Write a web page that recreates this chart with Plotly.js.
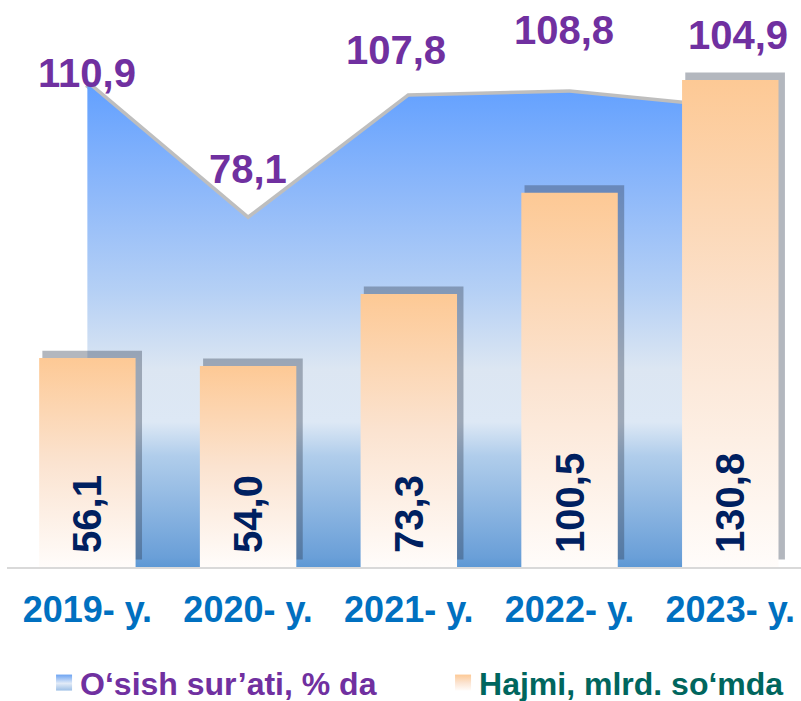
<!DOCTYPE html>
<html>
<head>
<meta charset="utf-8">
<script src="https://cdn.plot.ly/plotly-3.0.1.min.js"></script>
<style>
  html, body { margin: 0; padding: 0; background: #ffffff; }
  #chart { width: 801px; height: 701px; }
</style>
</head>
<body>
<div id="chart"></div>
<script>
// ---- data ----
const years = ['2019- y.', '2020- y.', '2021- y.', '2022- y.', '2023- y.'];
const growthRate = [110.9, 78.1, 107.8, 108.8, 104.9];   // O‘sish sur’ati, % da
const volume = [56.1, 54.0, 73.3, 100.5, 130.8];          // Hajmi, mlrd. so‘mda
const growthName = 'O‘sish sur’ati, % da';
const volumeName = 'Hajmi, mlrd. so‘mda';

// ---- style / layout settings (not data) ----
const AREA_RANGE = [-6.1, 126.4];
const BAR_RANGE = [0, 146.9];
const SHADOW_SHIFT = 2.0;
const labelShift = [[0, 11], [0, 50], [-13, 47], [-6, 63], [8, 74]];
const FONT = 'Liberation Sans, Arial, sans-serif';
const BAR_COLOR = 'rgb(252, 221, 192)';

const fmt = v => v.toFixed(1).replace('.', ',');

const traces = [
  { // shadow of the area edge
    type: 'scatter', mode: 'lines', x: years, y: growthRate, yaxis: 'y',
    line: { color: 'rgba(110,110,110,0.45)', width: 7 },
    showlegend: false, hoverinfo: 'skip'
  },
  { // area base at the bottom of the axis
    type: 'scatter', mode: 'lines', x: years, y: years.map(() => AREA_RANGE[0]), yaxis: 'y',
    line: { width: 0, color: 'rgba(0,0,0,0)' },
    showlegend: false, hoverinfo: 'skip'
  },
  {
    type: 'scatter', mode: 'lines', x: years, y: growthRate, yaxis: 'y',
    name: '<span style="color:#7030A0">' + growthName + '</span>',
    legendrank: 1,
    fill: 'tonexty',
    fillgradient: {
      type: 'vertical',
      start: AREA_RANGE[0],
      stop: Math.max(...growthRate),
      colorscale: [
        [0, '#5D98D4'], [0.02, '#6A9FD8'], [0.23, '#B0CDEB'], [0.30, '#DDE8F5'],
        [0.41, '#DCE6F2'], [0.57, '#B5D0F5'], [0.78, '#8DB8FA'], [1, '#62A0FF']
      ]
    },
    line: { width: 0, color: 'rgba(0,0,0,0)' },
    hoverinfo: 'skip'
  },
  { // bar shadows
    type: 'bar', x: years, y: volume, yaxis: 'y2',
    offset: -0.28, width: 0.62,
    marker: { color: 'rgba(45,55,75,0.36)', line: { width: 0 } },
    showlegend: false, hoverinfo: 'skip'
  },
  {
    type: 'bar', x: years, y: volume, yaxis: 'y3',
    name: '<span style="color:#00665E">' + volumeName + '</span>',
    legendrank: 2,
    offset: -0.3, width: 0.6,
    marker: { color: BAR_COLOR, line: { width: 0 } },
    texttemplate: '\u00A0%{y:.1f}',
    textposition: 'inside', insidetextanchor: 'start', textangle: -90,
    textfont: { family: FONT, size: 40, weight: 700, color: '#002060' },
    constraintext: 'none',
    hoverinfo: 'skip'
  }
];

const annotations = growthRate.map((v, i) => ({
  x: years[i], y: v, xref: 'x', yref: 'y',
  text: fmt(v), showarrow: false,
  xanchor: 'center', yanchor: 'middle',
  xshift: labelShift[i][0], yshift: labelShift[i][1],
  font: { family: FONT, size: 40, weight: 700, color: '#7030A0' }
}));

const layout = {
  width: 801, height: 701,
  margin: { l: 7, r: 0, t: 20, b: 134 },
  paper_bgcolor: '#ffffff', plot_bgcolor: '#ffffff',
  separators: ', ',
  showlegend: true,
  xaxis: {
    type: 'category', range: [-0.5, 4.44],
    showgrid: false, zeroline: false,
    showline: true, linecolor: '#D9D9D9', linewidth: 2,
    ticks: '', ticklabelstandoff: 10,
    tickfont: { family: FONT, size: 36, weight: 700, color: '#0070C0' }
  },
  yaxis: { range: AREA_RANGE, visible: false, fixedrange: true },
  yaxis2: { range: [BAR_RANGE[0] - SHADOW_SHIFT, BAR_RANGE[1] - SHADOW_SHIFT], overlaying: 'y', visible: false },
  yaxis3: { range: BAR_RANGE, overlaying: 'y', visible: false },
  legend: {
    orientation: 'h', traceorder: 'normal',
    xref: 'container', yref: 'container',
    x: 0.05, xanchor: 'left',
    y: 0.026, yanchor: 'middle',
    entrywidthmode: 'pixels', entrywidth: 354,
    font: { family: FONT, size: 32, weight: 700, color: '#7030A0' },
    bgcolor: 'rgba(0,0,0,0)'
  },
  annotations: annotations
};

const gd = document.getElementById('chart');
Plotly.newPlot(gd, traces, layout, { staticPlot: true, displayModeBar: false }).then(() => {
  try {
    const NS = 'http://www.w3.org/2000/svg';
    const svg = gd.querySelector('svg.main-svg');
    let defs = svg.querySelector('defs');
    if (!defs) { defs = document.createElementNS(NS, 'defs'); svg.insertBefore(defs, svg.firstChild); }
    function grad(id, stops) {
      const g = document.createElementNS(NS, 'linearGradient');
      g.setAttribute('id', id);
      g.setAttribute('x1', '0'); g.setAttribute('y1', '0');
      g.setAttribute('x2', '0'); g.setAttribute('y2', '1');
      stops.forEach(([o, c]) => {
        const s = document.createElementNS(NS, 'stop');
        s.setAttribute('offset', o); s.setAttribute('stop-color', c);
        g.appendChild(s);
      });
      defs.appendChild(g);
    }
    grad('barGrad', [[0, '#FDC995'], [0.5, '#FBE3D0'], [1, '#FFFCFA']]);
    grad('legBlue', [[0, '#6CA3F2'], [0.55, '#E2EBF7'], [1, '#9DBFE6']]);
    gd.querySelectorAll('.barlayer path').forEach(p => {
      const f = (p.style.fill || '').replace(/\s/g, '');
      if (f === BAR_COLOR.replace(/\s/g, '')) p.style.fill = 'url(#barGrad)';
    });
    gd.querySelectorAll('.legend .traces').forEach(item => {
      const layers = item.querySelector('.layers');
      if (!layers) return;
      const txt = (item.textContent || '');
      const isGrowth = txt.indexOf('sish') >= 0;
      layers.querySelectorAll('path').forEach(p => { p.style.display = 'none'; });
      const r = document.createElementNS(NS, 'rect');
      r.setAttribute('x', 16); r.setAttribute('y', -8);
      r.setAttribute('width', 16); r.setAttribute('height', 16);
      r.setAttribute('fill', isGrowth ? 'url(#legBlue)' : 'url(#barGrad)');
      layers.appendChild(r);
    });
  } catch (e) { console.log(e); }
});
</script>
</body>
</html>
